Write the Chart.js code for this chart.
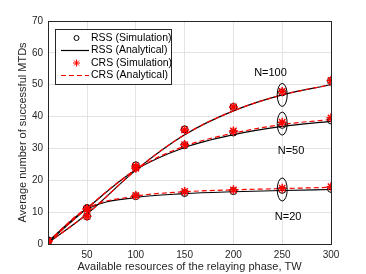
<!DOCTYPE html>
<html>
<head>
<meta charset="utf-8">
<script src="https://cdn.jsdelivr.net/npm/chart.js@4.4.1/dist/chart.umd.min.js"></script>
<style>
  html, body { margin: 0; padding: 0; background: #fff; }
</style>
</head>
<body>
<canvas id="chart" width="366" height="274"></canvas>
<script>
// x axis: available resources of the relaying phase (TW)
const resources = [10, 50, 100, 150, 200, 250, 300];
const xTicks = [50, 100, 150, 200, 250, 300];

// N = 100
const rssSim100 = [1.0, 8.7, 24.7, 36.0, 43.0, 47.6, 51.2];
const rssAna100 = [0.3, 9.4, 23.2, 34.3, 41.8, 46.8, 50.0];
const crsSim100 = [1.0, 8.7, 24.4, 35.8, 43.0, 47.9, 51.3];
const crsAna100 = [0.3, 9.4, 23.2, 34.3, 41.8, 46.8, 50.0];
// N = 50
const rssSim50 = [1.0, 11.3, 24.0, 31.0, 35.0, 37.4, 38.8];
const rssAna50 = [0.5, 11.2, 23.3, 30.3, 34.3, 36.9, 38.5];
const crsSim50 = [0.8, 11.0, 23.8, 31.2, 35.5, 38.2, 39.6];
const crsAna50 = [0.5, 11.3, 23.4, 30.7, 34.8, 37.5, 39.1];
// N = 20
const rssSim20 = [1.2, 11.2, 15.0, 16.0, 16.6, 17.0, 17.3];
const rssAna20 = [0.8, 11.0, 14.6, 15.8, 16.4, 16.8, 17.1];
const crsSim20 = [1.0, 11.0, 15.2, 16.5, 17.0, 17.5, 18.0];
const crsAna20 = [0.8, 11.2, 15.0, 16.4, 17.0, 17.4, 17.8];

const legendLabels = ['RSS (Simulation)', 'RSS (Analytical)', 'CRS (Simulation)', 'CRS (Analytical)'];
const groupLabels = ['N=100', 'N=50', 'N=20'];

const font = "'Liberation Sans', Arial, sans-serif";
const axisColor = '#262626';

function pts(values) {
	return resources.map((x, i) => ({ x: x, y: values[i] }));
}

function simCircle(values) {
	return {
		label: legendLabels[0], data: pts(values), showLine: false,
		pointStyle: 'circle', pointRadius: 3.5, pointBorderWidth: 1,
		pointBorderColor: '#000', pointBackgroundColor: 'rgba(0,0,0,0)',
		borderColor: '#000', order: 2
	};
}
function anaSolid(values) {
	return {
		label: legendLabels[1], data: pts(values), pointRadius: 0,
		borderColor: '#000', borderWidth: 1.2, cubicInterpolationMode: 'monotone', order: 4
	};
}
function simStar(values) {
	return {
		label: legendLabels[2], data: pts(values), showLine: false,
		pointStyle: 'star', pointRadius: 4.5, pointBorderWidth: 1.5,
		pointBorderColor: '#ff0000', borderColor: '#ff0000', order: 1
	};
}
function anaDashed(values) {
	return {
		label: legendLabels[3], data: pts(values), pointRadius: 0,
		borderColor: '#ff0000', borderWidth: 1.2, borderDash: [5, 3],
		cubicInterpolationMode: 'monotone', order: 3
	};
}

// legend box drawn inside the axes, like matlab
const boxLegend = {
	id: 'boxLegend',
	afterDraw(chart) {
		const c = chart.ctx;
		const left = 55, top = 29, w = 116, h = 55, rowH = 12.5;
		c.save();
		c.fillStyle = '#fff';
		c.fillRect(left, top, w, h);
		c.strokeStyle = axisColor;
		c.lineWidth = 1;
		c.strokeRect(left + 0.5, top + 0.5, w, h);
		c.font = '10.5px ' + font;
		c.textBaseline = 'middle';
		for (let i = 0; i < 4; i++) {
			const ds = chart.data.datasets[i];
			const y = top + 9 + i * rowH;
			if (ds.showLine === false) {
				c.strokeStyle = ds.pointBorderColor;
				c.fillStyle = 'rgba(0,0,0,0)';
				c.lineWidth = 1;
				Chart.helpers.drawPoint(c, { pointStyle: ds.pointStyle, radius: ds.pointRadius - 1, borderWidth: 1, rotation: 0 }, 76.5, y);
			} else {
				c.strokeStyle = ds.borderColor;
				c.lineWidth = ds.borderWidth;
				c.setLineDash(ds.borderDash || []);
				c.beginPath();
				c.moveTo(61, y);
				c.lineTo(89, y);
				c.stroke();
				c.setLineDash([]);
			}
			c.fillStyle = '#000';
			c.fillText(legendLabels[i], 91, y);
		}
		c.restore();
	}
};

// ellipses at TW=250 and the N labels
const groupMarks = {
	id: 'groupMarks',
	afterDatasetsDraw(chart) {
		const c = chart.ctx;
		const xs = chart.scales.x, ys = chart.scales.y;
		const ellipseY = [46.8, 37.8, 17.1];
		const textX = [238, 259, 256];
		const textY = [53.8, 29.2, 8.6];
		c.save();
		c.strokeStyle = '#000';
		c.lineWidth = 1;
		ellipseY.forEach((v) => {
			c.beginPath();
			c.ellipse(xs.getPixelForValue(250), ys.getPixelForValue(v), 5, 11.5, 0, 0, Math.PI * 2);
			c.stroke();
		});
		c.fillStyle = '#000';
		c.font = '11px ' + font;
		c.textAlign = 'center';
		c.textBaseline = 'middle';
		groupLabels.forEach((t, i) => {
			c.fillText(t, xs.getPixelForValue(textX[i]), ys.getPixelForValue(textY[i]));
		});
		// axes box
		const a = chart.chartArea;
		c.strokeStyle = axisColor;
		c.strokeRect(a.left + 0.5, a.top + 0.5, a.right - a.left, a.bottom - a.top);
		c.restore();
	}
};

const ctx = document.getElementById('chart').getContext('2d');

const chart = new Chart(ctx, {
	type: 'line',
	data: {
		datasets: [
			simCircle(rssSim100), anaSolid(rssAna100), simStar(crsSim100), anaDashed(crsAna100),
			simCircle(rssSim50), anaSolid(rssAna50), simStar(crsSim50), anaDashed(crsAna50),
			simCircle(rssSim20), anaSolid(rssAna20), simStar(crsSim20), anaDashed(crsAna20)
		]
	},
	options: {
		responsive: false,
		animation: false,
		layout: { padding: { left: 0, top: 21, right: 35, bottom: 0 } },
		plugins: { legend: { display: false }, tooltip: { enabled: false } },
		scales: {
			x: {
				type: 'linear', min: 10, max: 300,
				afterBuildTicks: (scale) => { scale.ticks = xTicks.map((v) => ({ value: v })); },
				afterFit: (scale) => { scale.height = 30; },
				grid: { color: '#e3e3e3', drawTicks: false },
				border: { display: false },
				ticks: { color: axisColor, padding: 5, font: { family: font, size: 10 }, maxRotation: 0 },
				title: {
					display: true, text: 'Available resources of the relaying phase, TW',
					color: axisColor, font: { family: font, size: 11 }, padding: { top: 0, bottom: 0 }
				}
			},
			y: {
				min: 0, max: 70,
				afterFit: (scale) => { scale.width = 48; },
				grid: { color: '#e3e3e3', drawTicks: false },
				border: { display: false },
				ticks: { stepSize: 10, color: axisColor, padding: 5, font: { family: font, size: 10 } },
				title: {
					display: true, text: 'Average number of successful MTDs',
					color: axisColor, font: { family: font, size: 11 }, padding: { top: 16, bottom: 0 }
				}
			}
		}
	},
	plugins: [groupMarks, boxLegend]
});
</script>
</body>
</html>
